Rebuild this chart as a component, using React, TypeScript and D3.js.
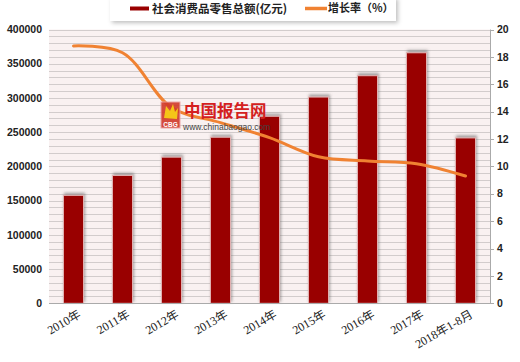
import React, { useEffect, useRef } from 'react';
import * as d3 from 'd3';

const categories = ['2010年', '2011年', '2012年', '2013年', '2014年', '2015年', '2016年', '2017年', '2018年1-8月'];
const salesValues = [157700, 186800, 213500, 242600, 273200, 301300, 332500, 366000, 241600];
const growthValues = [18.8, 18.3, 14.3, 13.2, 12.1, 10.7, 10.4, 10.2, 9.3];
const leftTicks = [0, 50000, 100000, 150000, 200000, 250000, 300000, 350000, 400000];
const rightTicks = [0, 2, 4, 6, 8, 10, 12, 14, 16, 18, 20];

const App = () => {
  const ref = useRef<SVGSVGElement>(null);

  useEffect(() => {
    const width = 520;
    const height = 362;
    const left = 49;
    const right = 490;
    const top = 29.5;
    const bottom = 303.3;

    const svg = d3.select(ref.current);
    svg.selectAll('*').remove();
    svg.attr('width', width).attr('height', height);

    const defs = svg.append('defs');
    const barShadow = defs.append('filter').attr('id', 'barShadow')
      .attr('x', '-50%').attr('y', '-20%').attr('width', '200%').attr('height', '140%');
    barShadow.append('feDropShadow')
      .attr('dx', 1).attr('dy', -2).attr('stdDeviation', 1.8)
      .attr('flood-color', '#555').attr('flood-opacity', 0.55);
    const boxShadow = defs.append('filter').attr('id', 'boxShadow')
      .attr('x', '-10%').attr('y', '-50%').attr('width', '120%').attr('height', '200%');
    boxShadow.append('feDropShadow')
      .attr('dx', 2).attr('dy', 2).attr('stdDeviation', 2)
      .attr('flood-color', '#000').attr('flood-opacity', 0.25);

    svg.append('rect').attr('width', width).attr('height', height).attr('fill', '#fff');

    const x = d3.scaleBand().domain(categories).range([left, right])
      .paddingInner(0.59).paddingOuter(0.295);
    const yL = d3.scaleLinear().domain([0, 400000]).range([bottom, top]);
    const yR = d3.scaleLinear().domain([0, 20]).range([bottom, top]);

    // plot background + grid
    svg.append('rect')
      .attr('x', left).attr('y', top)
      .attr('width', right - left).attr('height', bottom - top)
      .attr('fill', '#f9f1f1');
    svg.append('g')
      .selectAll('line')
      .data(d3.range(10000, 400001, 10000))
      .enter()
      .append('line')
      .attr('x1', left).attr('x2', right)
      .attr('y1', (d) => Math.round(yL(d)) + 0.5)
      .attr('y2', (d) => Math.round(yL(d)) + 0.5)
      .attr('stroke', '#d2cccc')
      .attr('stroke-width', 1);

    // bars
    svg.append('g')
      .selectAll('rect')
      .data(salesValues)
      .enter()
      .append('rect')
      .attr('x', (d, i) => x(categories[i]) as number)
      .attr('y', (d) => yL(d))
      .attr('width', x.bandwidth())
      .attr('height', (d) => bottom - yL(d))
      .attr('fill', '#990000')
      .attr('stroke', '#e3b5b5')
      .attr('stroke-width', 1)
      .attr('filter', 'url(#barShadow)');

    // axes lines
    svg.append('line')
      .attr('x1', left).attr('x2', right + 4)
      .attr('y1', Math.round(bottom) + 0.5).attr('y2', Math.round(bottom) + 0.5)
      .attr('stroke', '#aaa');
    svg.append('line')
      .attr('x1', right + 0.5).attr('x2', right + 0.5)
      .attr('y1', top).attr('y2', bottom)
      .attr('stroke', '#aaa');
    svg.append('g')
      .selectAll('line')
      .data(rightTicks)
      .enter()
      .append('line')
      .attr('x1', right).attr('x2', right + 4)
      .attr('y1', (d) => Math.round(yR(d)) + 0.5)
      .attr('y2', (d) => Math.round(yR(d)) + 0.5)
      .attr('stroke', '#aaa');

    // growth line
    const line = d3.line<number>()
      .x((d, i) => (x(categories[i]) as number) + x.bandwidth() / 2)
      .y((d) => yR(d))
      .curve(d3.curveCatmullRom.alpha(0.5));
    svg.append('path')
      .datum(growthValues)
      .attr('d', line)
      .attr('fill', 'none')
      .attr('stroke', '#f08232')
      .attr('stroke-width', 3)
      .attr('stroke-linecap', 'round');

    // left tick labels
    svg.append('g')
      .selectAll('text')
      .data(leftTicks)
      .enter()
      .append('text')
      .attr('x', 42)
      .attr('y', (d) => yL(d))
      .attr('dy', '0.35em')
      .attr('text-anchor', 'end')
      .style('font-family', '"Liberation Sans", Arial, sans-serif')
      .style('font-size', '10.5px')
      .style('font-weight', 'bold')
      .attr('fill', '#222')
      .text((d) => String(d));

    // right tick labels
    svg.append('g')
      .selectAll('text')
      .data(rightTicks)
      .enter()
      .append('text')
      .attr('x', 497)
      .attr('y', (d) => yR(d))
      .attr('dy', '0.35em')
      .style('font-family', '"Liberation Sans", Arial, sans-serif')
      .style('font-size', '10.5px')
      .style('font-weight', 'bold')
      .attr('fill', '#222')
      .text((d) => String(d));

    // category labels
    svg.append('g')
      .selectAll('text')
      .data(categories)
      .enter()
      .append('text')
      .attr('transform', (d) => `translate(${(x(d) as number) + x.bandwidth() / 2 + 6},${313}) rotate(-30)`)
      .attr('text-anchor', 'end')
      .attr('dy', '0.35em')
      .style('font-family', '"Liberation Serif", "Noto Sans CJK SC", serif')
      .style('font-size', '12px')
      .attr('fill', '#222')
      .text((d) => d);

    // watermark
    const wm = svg.append('g');
    wm.append('rect').attr('x', 161).attr('y', 102).attr('width', 19).attr('height', 26)
      .attr('fill', '#d23a2a').attr('stroke', '#e9a0a0').attr('stroke-width', 1).attr('opacity', 0.9);
    wm.append('path').attr('d', 'M164,118 L166,106 L170,111 L173,104 L175,112 L178,108 L177,119 Z')
      .attr('fill', '#f5c518');
    wm.append('text').attr('x', 170.5).attr('y', 126.5).attr('text-anchor', 'middle')
      .style('font-family', '"Liberation Sans", sans-serif').style('font-size', '6.5px').style('font-weight', 'bold')
      .attr('fill', '#fff').text('CBG');
    wm.append('text').attr('x', 184).attr('y', 117)
      .style('font-family', '"Noto Sans CJK SC", sans-serif').style('font-size', '16.5px').style('font-weight', 'bold')
      .attr('fill', '#d42020').text('中国报告网');
    wm.append('text').attr('x', 183).attr('y', 129.5)
      .style('font-family', '"Liberation Sans", Arial, sans-serif').style('font-size', '8.5px')
      .attr('fill', '#444').text('www.chinabaogao.com');

    // legend
    const lg = svg.append('g');
    lg.append('rect').attr('x', 110).attr('y', -3).attr('width', 286).attr('height', 24)
      .attr('fill', '#fff').attr('filter', 'url(#boxShadow)');
    lg.append('line').attr('x1', 130).attr('x2', 149).attr('y1', 8.5).attr('y2', 8.5)
      .attr('stroke', '#990000').attr('stroke-width', 4);
    lg.append('text').attr('x', 152).attr('y', 8.5).attr('dy', '0.35em')
      .style('font-family', '"Noto Sans CJK SC", sans-serif').style('font-size', '11.5px').style('font-weight', 'bold')
      .attr('fill', '#222').text('社会消费品零售总额(亿元)');
    lg.append('line').attr('x1', 305).attr('x2', 327).attr('y1', 8.5).attr('y2', 8.5)
      .attr('stroke', '#f08232').attr('stroke-width', 3.5);
    lg.append('text').attr('x', 328).attr('y', 8.5).attr('dy', '0.35em')
      .style('font-family', '"Noto Sans CJK SC", sans-serif').style('font-size', '11px').style('font-weight', 'bold')
      .attr('fill', '#222').text('增长率（%）');
  }, []);

  return (
    <div style={{ position: 'absolute', left: 0, top: 0 }}>
      <svg ref={ref}></svg>
    </div>
  );
};

export default App;
